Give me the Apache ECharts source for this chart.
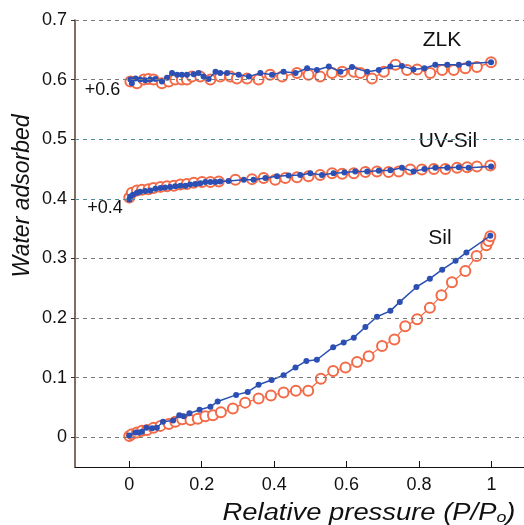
<!DOCTYPE html>
<html>
<head>
<meta charset="utf-8">
<script src="https://cdn.jsdelivr.net/npm/echarts@6/dist/echarts.min.js"></script>
<style>html,body{margin:0;padding:0;background:#fff}#c{width:524px;height:525px}</style>
</head>
<body>
<div id="c"></div>
<script>
// ---- data: [relative pressure, water adsorbed] ----
const silDes = [[0,0.003],[0.017,0.008],[0.026,0.008],[0.035,0.009],[0.047,0.016],[0.063,0.015],[0.076,0.016],[0.093,0.026],[0.121,0.028],[0.138,0.037],[0.150,0.035],[0.166,0.040],[0.194,0.046],[0.224,0.051],[0.244,0.060],[0.295,0.071],[0.327,0.076],[0.357,0.088],[0.393,0.096],[0.426,0.104],[0.459,0.117],[0.489,0.128],[0.518,0.130],[0.563,0.151],[0.592,0.159],[0.620,0.167],[0.652,0.185],[0.684,0.202],[0.721,0.212],[0.747,0.227],[0.793,0.252],[0.830,0.266],[0.864,0.281],[0.901,0.296],[0.931,0.310],[0.997,0.338]];
const silAds = [[0,0.002],[0.007,0.005],[0.021,0.008],[0.035,0.011],[0.049,0.012],[0.067,0.016],[0.086,0.019],[0.109,0.022],[0.127,0.026],[0.146,0.030],[0.169,0.029],[0.189,0.031],[0.210,0.035],[0.231,0.037],[0.253,0.042],[0.286,0.048],[0.320,0.058],[0.357,0.065],[0.391,0.070],[0.426,0.075],[0.460,0.078],[0.494,0.078],[0.529,0.098],[0.563,0.111],[0.597,0.117],[0.629,0.126],[0.661,0.136],[0.698,0.153],[0.732,0.164],[0.762,0.186],[0.795,0.198],[0.830,0.217],[0.862,0.238],[0.891,0.260],[0.928,0.279],[0.959,0.304],[0.986,0.322],[0.992,0.329],[0.997,0.337]];
const uvDes = [[0,0.399],[0.003,0.404],[0.010,0.407],[0.021,0.410],[0.030,0.412],[0.044,0.413],[0.058,0.414],[0.072,0.417],[0.086,0.418],[0.099,0.419],[0.113,0.420],[0.127,0.421],[0.141,0.422],[0.155,0.422],[0.168,0.424],[0.182,0.425],[0.196,0.426],[0.210,0.428],[0.224,0.428],[0.238,0.428],[0.251,0.429],[0.274,0.430],[0.316,0.432],[0.343,0.432],[0.376,0.435],[0.408,0.438],[0.440,0.439],[0.472,0.440],[0.500,0.443],[0.532,0.440],[0.564,0.443],[0.594,0.444],[0.624,0.446],[0.657,0.446],[0.689,0.447],[0.721,0.448],[0.753,0.452],[0.785,0.446],[0.815,0.450],[0.845,0.452],[0.878,0.452],[0.910,0.453],[0.937,0.452],[0.999,0.454]];
const uvAds = [[0,0.402],[0.007,0.410],[0.021,0.414],[0.035,0.415],[0.053,0.416],[0.067,0.418],[0.086,0.420],[0.104,0.421],[0.123,0.422],[0.141,0.424],[0.159,0.425],[0.178,0.427],[0.201,0.428],[0.224,0.428],[0.247,0.429],[0.293,0.432],[0.339,0.433],[0.371,0.435],[0.403,0.432],[0.431,0.435],[0.463,0.436],[0.495,0.438],[0.527,0.440],[0.560,0.443],[0.588,0.442],[0.620,0.443],[0.652,0.445],[0.684,0.446],[0.716,0.445],[0.744,0.446],[0.776,0.449],[0.808,0.449],[0.841,0.450],[0.873,0.450],[0.905,0.452],[0.933,0.453],[0.960,0.454],[0.997,0.456]];
const zlkDes = [[0.003,0.600],[0.007,0.594],[0.017,0.602],[0.030,0.600],[0.044,0.599],[0.058,0.600],[0.072,0.601],[0.090,0.597],[0.104,0.603],[0.118,0.611],[0.132,0.608],[0.145,0.608],[0.159,0.608],[0.178,0.609],[0.191,0.611],[0.205,0.605],[0.219,0.601],[0.238,0.613],[0.251,0.611],[0.270,0.611],[0.302,0.608],[0.330,0.605],[0.362,0.611],[0.394,0.608],[0.426,0.613],[0.459,0.611],[0.491,0.619],[0.518,0.616],[0.551,0.622],[0.583,0.613],[0.615,0.621],[0.657,0.613],[0.689,0.616],[0.721,0.622],[0.753,0.623],[0.785,0.617],[0.815,0.619],[0.845,0.625],[0.878,0.625],[0.910,0.625],[0.937,0.627],[0.999,0.629]];
const zlkAds = [[0.003,0.597],[0.021,0.594],[0.040,0.600],[0.053,0.601],[0.067,0.600],[0.090,0.594],[0.109,0.597],[0.127,0.600],[0.145,0.600],[0.159,0.600],[0.173,0.605],[0.196,0.605],[0.224,0.600],[0.251,0.605],[0.279,0.605],[0.297,0.602],[0.325,0.602],[0.357,0.600],[0.389,0.608],[0.422,0.605],[0.463,0.611],[0.495,0.608],[0.527,0.605],[0.560,0.611],[0.588,0.613],[0.620,0.613],[0.638,0.611],[0.670,0.602],[0.703,0.613],[0.735,0.625],[0.767,0.616],[0.795,0.617],[0.831,0.611],[0.864,0.616],[0.896,0.616],[0.928,0.619],[0.960,0.621],[0.999,0.629]];
const xTicks = [0, 0.2, 0.4, 0.6, 0.8, 1];
const yTicks = [0, 0.1, 0.2, 0.3, 0.4, 0.5, 0.6, 0.7];
const sampleLabels = ['ZLK', 'UV-Sil', 'Sil'];
const offsetLabels = ['+0.6', '+0.4'];

const FONT = 'Liberation Sans, Arial, Helvetica, sans-serif';
const ORANGE = '#f36a47';
const BLUE = '#2b4fb3';

function adsSeries(name, data) {
  return {
    name, type: 'line', data,
    symbol: 'circle', symbolSize: 10,
    itemStyle: { color: '#fff', borderColor: ORANGE, borderWidth: 2 },
    lineStyle: { color: ORANGE, width: 1.2 },
    z: 2, animation: false
  };
}
function desSeries(name, data) {
  return {
    name, type: 'line', data,
    symbol: 'circle', symbolSize: 6,
    itemStyle: { color: BLUE, borderWidth: 0 },
    lineStyle: { color: BLUE, width: 1.5 },
    z: 3, animation: false
  };
}

const chart = echarts.init(document.getElementById('c'), null, { renderer: 'canvas' });
chart.setOption({
  animation: false,
  grid: { left: 75, right: 0, top: 20, bottom: 58 },
  xAxis: {
    type: 'value', min: -0.15, max: 1.09,
    axisLine: { show: true, onZero: false, lineStyle: { color: '#111', width: 1.2 } },
    axisTick: { show: true, inside: true, length: 6, customValues: xTicks, lineStyle: { color: '#111' } },
    axisLabel: { customValues: xTicks, margin: 9, color: '#111', fontSize: 18, fontFamily: FONT,
      formatter: v => String(+v.toFixed(1)) },
    splitLine: { show: false }
  },
  yAxis: {
    type: 'value', min: -0.05, max: 0.7,
    axisLine: { show: true, onZero: false, lineStyle: { color: '#5a3b2e', width: 1.5 } },
    axisTick: { show: true, inside: false, length: 4, customValues: yTicks, lineStyle: { color: '#333' } },
    axisLabel: { customValues: yTicks, margin: 8, color: '#111', fontSize: 18, fontFamily: FONT,
      formatter: v => (Math.abs(v) < 1e-9 ? '0' : v.toFixed(1)) },
    splitLine: { show: false }
  },
  series: [
    {
      type: 'line', data: [], silent: true,
      markLine: {
        silent: true, symbol: 'none', animation: false, label: { show: false },
        data: yTicks.map(v => ({
          yAxis: v,
          lineStyle: { type: [4, 4], width: 1, color: (v === 0.4 || v === 0.5) ? '#4f8f9c' : '#7a7a7a' }
        }))
      }
    },
    adsSeries('Sil ads', silAds),
    desSeries('Sil des', silDes),
    adsSeries('UV-Sil ads', uvAds),
    desSeries('UV-Sil des', uvDes),
    adsSeries('ZLK ads', zlkAds),
    desSeries('ZLK des', zlkDes)
  ],
  graphic: [
    { type: 'text', x: 442, y: 40, style: { text: sampleLabels[0], font: '21px ' + FONT, fill: '#111', align: 'center', verticalAlign: 'middle' } },
    { type: 'text', x: 448, y: 141, style: { text: sampleLabels[1], font: '21px ' + FONT, fill: '#111', align: 'center', verticalAlign: 'middle' } },
    { type: 'text', x: 440, y: 238, style: { text: sampleLabels[2], font: '21px ' + FONT, fill: '#111', align: 'center', verticalAlign: 'middle' } },
    { type: 'text', x: 102.5, y: 90, style: { text: offsetLabels[0], font: '18px ' + FONT, fill: '#111', align: 'center', verticalAlign: 'middle' } },
    { type: 'text', x: 105, y: 208, style: { text: offsetLabels[1], font: '18px ' + FONT, fill: '#111', align: 'center', verticalAlign: 'middle' } },
    { type: 'text', x: 23, y: 196, rotation: Math.PI / 2,
      style: { text: 'Water adsorbed', font: 'italic 23px ' + FONT, fill: '#111', align: 'center', verticalAlign: 'middle' } },
    { type: 'text', x: 369, y: 514, scaleX: 1.19,
      style: { text: '{a|Relative pressure (P/P}{s|o}{a|)}', align: 'center', verticalAlign: 'middle',
        rich: { a: { font: 'italic 23px ' + FONT, fill: '#111' },
                s: { font: 'italic 15px ' + FONT, fill: '#111', padding: [8, 0, 0, 0] } } } }
  ]
});
</script>
</body>
</html>
